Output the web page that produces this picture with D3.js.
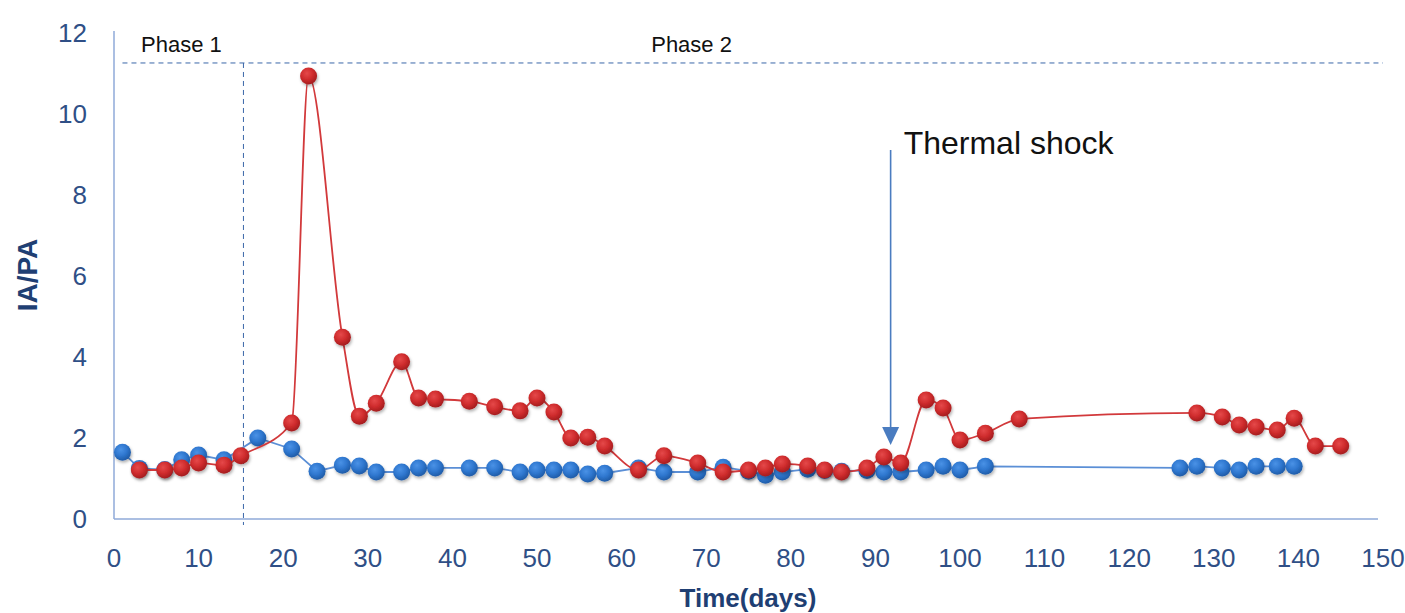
<!DOCTYPE html>
<html>
<head>
<meta charset="utf-8">
<script src="https://cdn.jsdelivr.net/npm/d3@7"></script>
<style>
	body { margin: 0; background: #fff; }
	text { font-family: "Liberation Sans", Arial, sans-serif; }
</style>
</head>
<body>
<div id="viz"></div>
<script>

/*********
 * DATA  *
 *********/

var BLUE_DAYS   = [1, 3, 6, 8, 10, 13, 17, 21, 24, 27, 29, 31, 34, 36, 38, 42, 45, 48, 50, 52, 54, 56, 58,
                   62, 65, 69, 72, 75, 77, 79, 82, 84, 86, 89, 91, 93, 96, 98, 100, 103,
                   126, 128, 131, 133, 135, 137.5, 139.5];
var BLUE_VALUES = [1.65, 1.25, 1.22, 1.46, 1.58, 1.46, 2.0, 1.73, 1.18, 1.33, 1.31, 1.16, 1.16, 1.26, 1.26, 1.26, 1.26, 1.16, 1.21, 1.21, 1.21, 1.11, 1.13,
                   1.26, 1.16, 1.16, 1.28, 1.18, 1.08, 1.16, 1.23, 1.2, 1.18, 1.2, 1.16, 1.16, 1.21, 1.3, 1.21, 1.3,
                   1.26, 1.3, 1.26, 1.21, 1.3, 1.3, 1.3];

var RED_DAYS    = [3, 6, 8, 10, 13, 15, 21, 23, 27, 29, 31, 34, 36, 38, 42, 45, 48, 50, 52, 54, 56, 58,
                   62, 65, 69, 72, 75, 77, 79, 82, 84, 86, 89, 91, 93, 96, 98, 100, 103, 107,
                   128, 131, 133, 135, 137.5, 139.5, 142, 145];
var RED_VALUES  = [1.21, 1.21, 1.26, 1.38, 1.33, 1.56, 2.37, 10.94, 4.49, 2.54, 2.86, 3.88, 2.99, 2.96, 2.91, 2.77, 2.67, 2.99, 2.64, 2.0, 2.02, 1.8,
                   1.21, 1.56, 1.38, 1.16, 1.21, 1.26, 1.36, 1.31, 1.21, 1.16, 1.26, 1.53, 1.38, 2.94, 2.74, 1.95, 2.12, 2.47,
                   2.62, 2.52, 2.32, 2.27, 2.2, 2.49, 1.8, 1.8];

var X_TICKS = [0, 10, 20, 30, 40, 50, 60, 70, 80, 90, 100, 110, 120, 130, 140, 150];
var Y_TICKS = [0, 2, 4, 6, 8, 10, 12];

var PHASE_LABELS = ["Phase 1", "Phase 2"];
var PHASE_DAYS   = [3.2, 63.5];
var PHASE_SPLIT  = 15.3;
var PHASE_LEVEL  = 11.26;

var SHOCK_LABEL = "Thermal shock";
var SHOCK_DAY   = 91.8;

/*****************
 * INITIAL SETUP *
 *****************/

var SVG_WIDTH = 1405, SVG_HEIGHT = 613;
var LEFT = 114, RIGHT = 1383, TOP = 33, BOTTOM = 519;

var x = d3.scaleLinear().domain([0, 150]).range([LEFT, RIGHT]);
var y = d3.scaleLinear().domain([0, 12]).range([BOTTOM, TOP]);

var svg = d3.select("#viz")
	.append("svg")
	.attr("width", SVG_WIDTH)
	.attr("height", SVG_HEIGHT);

var defs = svg.append("defs");

// marker shading and shadow
defs.append("filter").attr("id", "shadow")
	.attr("x", "-50%").attr("y", "-50%").attr("width", "200%").attr("height", "200%")
	.append("feDropShadow")
	.attr("dx", 1).attr("dy", 2).attr("stdDeviation", 1.6)
	.attr("flood-color", "#000").attr("flood-opacity", 0.3);

function addGradient(id, light, mid, dark){
	var g = defs.append("radialGradient").attr("id", id)
		.attr("cx", "40%").attr("cy", "35%").attr("r", "65%");
	g.append("stop").attr("offset", "0%").attr("stop-color", light);
	g.append("stop").attr("offset", "55%").attr("stop-color", mid);
	g.append("stop").attr("offset", "100%").attr("stop-color", dark);
}
addGradient("blueDot", "#4a92e6", "#2f77cf", "#1f5ca8");
addGradient("redDot", "#e5494a", "#cf2c2d", "#a51d1f");

/********
 * AXES *
 ********/

svg.append("line")
	.attr("x1", x(0)).attr("x2", x(0))
	.attr("y1", y(0)).attr("y2", y(12) - 2)
	.attr("stroke", "#8faad8").attr("stroke-width", 1.5);

svg.append("line")
	.attr("x1", x(0)).attr("x2", x(150) - 5)
	.attr("y1", y(0)).attr("y2", y(0))
	.attr("stroke", "#8faad8").attr("stroke-width", 1.5);

svg.selectAll("text.ytick")
	.data(Y_TICKS)
	.enter()
	.append("text")
	.attr("class", "ytick")
	.attr("x", 87)
	.attr("y", function(d){ return y(d) + 9; })
	.attr("text-anchor", "end")
	.attr("font-size", 26)
	.attr("fill", "#2f4f86")
	.text(function(d){ return d; });

svg.selectAll("text.xtick")
	.data(X_TICKS)
	.enter()
	.append("text")
	.attr("class", "xtick")
	.attr("x", function(d){ return x(d); })
	.attr("y", 567)
	.attr("text-anchor", "middle")
	.attr("font-size", 26)
	.attr("fill", "#2f4f86")
	.text(function(d){ return d; });

svg.append("text")
	.attr("x", 748).attr("y", 607)
	.attr("text-anchor", "middle")
	.attr("font-size", 26).attr("font-weight", "bold")
	.attr("fill", "#1f3f73")
	.text("Time(days)");

svg.append("text")
	.attr("transform", "translate(37,275) rotate(-90)")
	.attr("text-anchor", "middle")
	.attr("font-size", 28).attr("font-weight", "bold")
	.attr("fill", "#1f3f73")
	.text("IA/PA");

/***************
 * ANNOTATIONS *
 ***************/

svg.append("line")
	.attr("x1", x(1)).attr("x2", x(150))
	.attr("y1", y(PHASE_LEVEL)).attr("y2", y(PHASE_LEVEL))
	.attr("stroke", "#3a66a8").attr("stroke-width", 1)
	.attr("stroke-dasharray", "5,4");

svg.append("line")
	.attr("x1", x(PHASE_SPLIT)).attr("x2", x(PHASE_SPLIT))
	.attr("y1", y(PHASE_LEVEL)).attr("y2", y(0) + 6)
	.attr("stroke", "#3a66a8").attr("stroke-width", 1)
	.attr("stroke-dasharray", "5,4");

svg.selectAll("text.phase")
	.data(PHASE_LABELS)
	.enter()
	.append("text")
	.attr("class", "phase")
	.attr("x", function(d, i){ return x(PHASE_DAYS[i]); })
	.attr("y", 52)
	.attr("font-size", 22)
	.attr("fill", "#111")
	.text(function(d){ return d; });

// thermal shock arrow
svg.append("line")
	.attr("x1", x(SHOCK_DAY)).attr("x2", x(SHOCK_DAY))
	.attr("y1", 150).attr("y2", 430)
	.attr("stroke", "#4a7cc0").attr("stroke-width", 1.6);

svg.append("path")
	.attr("d", "M" + (x(SHOCK_DAY) - 8.5) + ",427 L" + (x(SHOCK_DAY) + 8.5) + ",427 L" + x(SHOCK_DAY) + ",445 Z")
	.attr("fill", "#4a7cc0");

svg.append("text")
	.attr("x", x(SHOCK_DAY) + 13).attr("y", 154)
	.attr("font-size", 32)
	.attr("fill", "#111")
	.text(SHOCK_LABEL);

/**********
 * SERIES *
 **********/

function drawSeries(days, values, lineColor, dotFill, curve){
	var pts = days.map(function(d, i){ return [d, values[i]]; });
	var line = d3.line()
		.x(function(d){ return x(d[0]); })
		.y(function(d){ return y(d[1]); })
		.curve(curve);

	svg.append("path")
		.datum(pts)
		.attr("d", line)
		.attr("fill", "none")
		.attr("stroke", lineColor)
		.attr("stroke-width", 1.8);

	svg.append("g")
		.attr("filter", "url(#shadow)")
		.selectAll("circle")
		.data(pts)
		.enter()
		.append("circle")
		.attr("cx", function(d){ return x(d[0]); })
		.attr("cy", function(d){ return y(d[1]); })
		.attr("r", 8.5)
		.attr("fill", dotFill);
}

drawSeries(BLUE_DAYS, BLUE_VALUES, "#5b8fd6", "url(#blueDot)", d3.curveLinear);
drawSeries(RED_DAYS, RED_VALUES, "#d2393b", "url(#redDot)", d3.curveMonotoneX);

</script>
</body>
</html>
